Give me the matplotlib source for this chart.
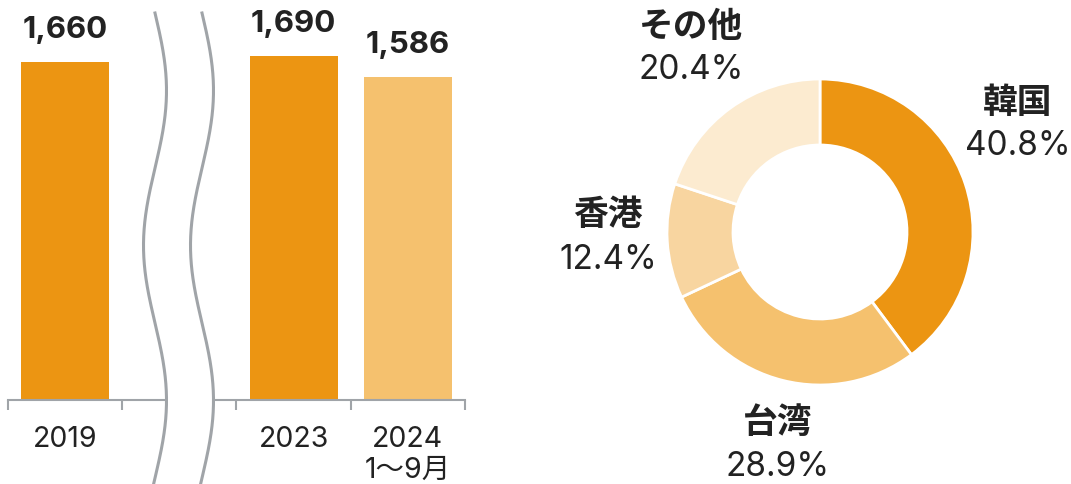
import numpy as np
import matplotlib
matplotlib.use("Agg")
import matplotlib.pyplot as plt

plt.rcParams['font.family'] = ['Inter', 'Noto Sans CJK JP', 'DejaVu Sans']

# ---- data ----
bar_labels = ["2019", "", "2023", "2024\n1〜9月"]
bar_values = [1660, None, 1690, 1586]
bar_value_text = ["1,660", "", "1,690", "1,586"]

share_names = ["韓国", "台湾", "香港", "その他"]
share_values = [40.8, 28.9, 12.4, 20.4]
share_text = ["40.8%", "28.9%", "12.4%", "20.4%"]

DARK = "#EC9512"
MID = "#F5C16E"
LIGHT = "#F8D5A0"
PALE = "#FCEBD0"
TXT = "#222222"
GRAY = "#A0A4A8"

W, H = 1071, 484
fig = plt.figure(figsize=(W / 100, H / 100), dpi=100)

def px_axes(x0, y0, x1, y1):
    # pixel box (top-left origin) -> figure axes
    return fig.add_axes([x0 / W, 1 - y1 / H, (x1 - x0) / W, (y1 - y0) / H])

# ---- bar chart ----
ax = px_axes(8, 0, 465, 400)
pos = np.arange(len(bar_labels))
bar_colors = [DARK, None, DARK, MID]
for p, v, c, t in zip(pos, bar_values, bar_colors, bar_value_text):
    if v is None:
        continue
    ax.bar(p, v, width=0.77, color=c, zorder=2)
    ax.annotate(t, (p, v), xytext=(0, 13), textcoords="offset points",
                ha="center", va="bottom", fontsize=22.5, fontweight="bold",
                color=TXT)
ax.set_xlim(-0.5, 3.5)
ax.set_ylim(0, 400 / (344 / 1690))
for s in ["top", "right", "left"]:
    ax.spines[s].set_visible(False)
ax.spines["bottom"].set_color(GRAY)
ax.spines["bottom"].set_linewidth(1.5)
ax.set_yticks([])
ax.set_xticks(np.arange(-0.5, 4.0, 1.0))
ax.set_xticklabels([])
ax.tick_params(axis="x", which="major", length=7, width=1.5, color=GRAY)
ax.set_xticks(pos, minor=True)
ax.set_xticklabels(bar_labels, minor=True, fontsize=20.5, color=TXT,
                   linespacing=1.15, va="top")
ax.tick_params(axis="x", which="minor", length=0, pad=19)

# ---- break (wavy lines) ----
ov = fig.add_axes([0, 0, 1, 1], zorder=5)
ov.set_xlim(0, W)
ov.set_ylim(H, 0)
ov.axis("off")
ov.patch.set_alpha(0)
yy = np.linspace(13, H, 400)
wave = 11.5 * np.sin(2 * np.pi * (yy - 13) / 310)
xl = 155 + wave
xr = 202 + wave
ov.fill_betweenx(yy, xl, xr, color="white", lw=0)
ov.plot(xl, yy, color=GRAY, lw=2.2)
ov.plot(xr, yy, color=GRAY, lw=2.2)

# ---- donut ----
R = 153
cx, cy = 820, 232
half = 230
axp = px_axes(cx - half, cy - half, cx + half, cy + half)
axp.pie(share_values, colors=[DARK, MID, LIGHT, PALE], startangle=90,
        counterclock=False, radius=1,
        wedgeprops=dict(width=66 / R, edgecolor="white", linewidth=2))
axp.set_xlim(-half / R, half / R)
axp.set_ylim(-half / R, half / R)
axp.set_aspect("equal")
axp.axis("off")

# label positions (pixel centres of name / percentage)
label_pos = {
    "韓国": (1018, 102, 146),
    "台湾": (778, 422, 467),
    "香港": (608, 215, 260),
    "その他": (691, 26, 70),
}
for n, t in zip(share_names, share_text):
    x, yn, yp = label_pos[n]
    axp.text((x - cx) / R, (cy - yn) / R, n, ha="center", va="center",
             fontsize=25, fontweight="bold", color=TXT,
             family=["Noto Sans CJK JP", "DejaVu Sans"])
    axp.text((x - cx) / R, (cy - yp) / R, t, ha="center", va="center",
             fontsize=24, color=TXT)

fig.savefig("out.png", dpi=100)
